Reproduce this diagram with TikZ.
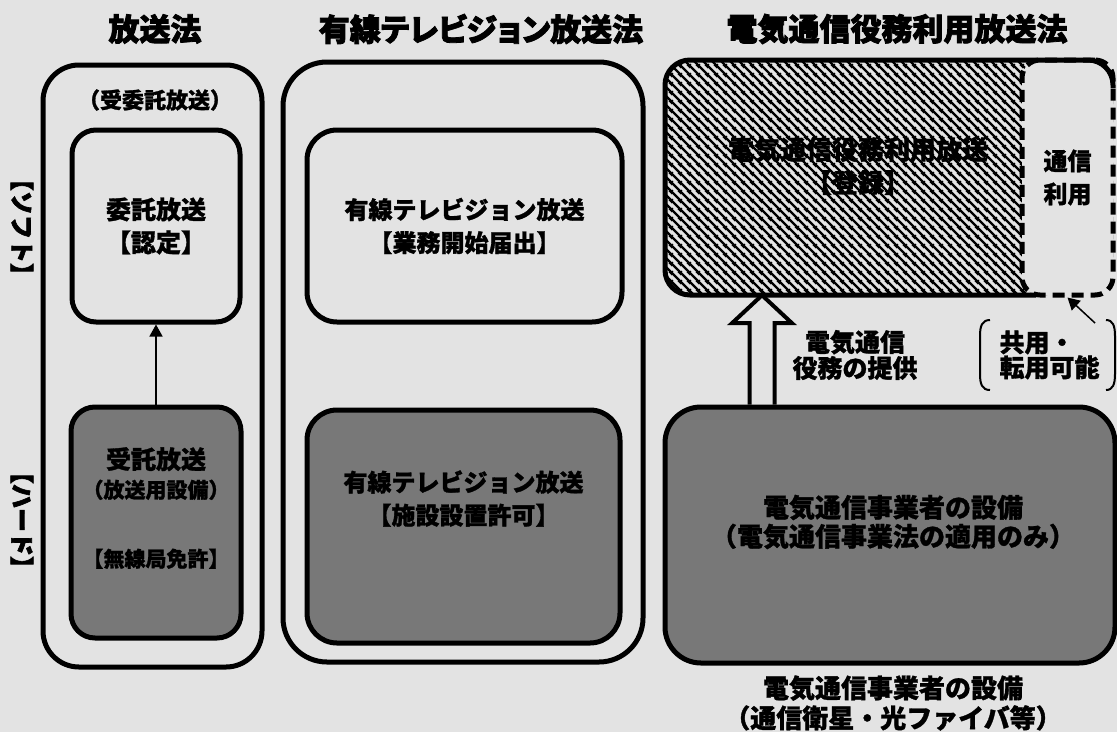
\documentclass[tikz,border=0pt]{standalone}
\usepackage{fontspec}
\setmainfont{Noto Sans CJK JP}[BoldFeatures={FakeBold=1.2}]
\newfontfamily\heavy{Noto Sans CJK JP}[BoldFeatures={FakeBold=2.5}]
\usetikzlibrary{arrows.meta,patterns,calc}
\definecolor{paper}{gray}{0.89}
\definecolor{hardgray}{gray}{0.47}
\newcommand{\fs}[2]{\fontsize{#1}{#2}\selectfont\bfseries}
\newcommand{\hs}[2]{\heavy\fontsize{#1}{#2}\selectfont\bfseries}
\pgfdeclarepatternformonly{regstripes}{\pgfqpoint{0pt}{0pt}}{\pgfqpoint{8.5pt}{8.5pt}}{\pgfqpoint{8.5pt}{8.5pt}}{%
  \pgfsetlinewidth{2.4pt}
  \pgfpathmoveto{\pgfqpoint{-1pt}{9.5pt}}\pgfpathlineto{\pgfqpoint{9.5pt}{-1pt}}
  \pgfpathmoveto{\pgfqpoint{-2pt}{2pt}}\pgfpathlineto{\pgfqpoint{2pt}{-2pt}}
  \pgfpathmoveto{\pgfqpoint{6.5pt}{10.5pt}}\pgfpathlineto{\pgfqpoint{10.5pt}{6.5pt}}
  \pgfusepath{stroke}}

\begin{document}
\begin{tikzpicture}[x=1pt,y=-1pt,
    lawbox/.style={draw,line width=5pt,rounded corners=#1,inner sep=0pt,align=center},
    lawbox/.default=28pt,
    hardbox/.style={lawbox=#1,fill=hardgray},
    hardbox/.default=28pt,
    lawtitle/.style={font=\hs{31}{36}},
    txt/.style={font=\fs{24}{33},align=center},
    hollow/.style={draw,line width=4pt,fill=paper,line join=miter},
    ptr/.style={line width=1.5pt,-{Triangle[length=12pt,width=13pt]}},
    brack/.style={line width=2pt}]
    \fill[paper] (0,0) rectangle (1117,732);
    \useasboundingbox (0,0) rectangle (1117,732);

    % titles
    \node[lawtitle] (hoso) at (155,29) {放送法};
    \node[lawtitle,font={\hs{31}{36}\addfontfeature{RawFeature=+palt}}] (yusen) at (481,29) {有線テレビジョン放送法};
    \node[lawtitle] (denki) at (897,29) {電気通信役務利用放送法};

    \node[font=\hs{24}{24},rotate=-90] (soft) at (22,227) {【ソフト】};
    \node[font=\hs{24}{24},rotate=-90] (hard) at (22,520) {【ハード】};

    % 放送法
    \node[lawbox=36pt,minimum width=219pt,minimum height=602pt] (hosobox) at (152.5,366) {};
    \node[font=\fs{22}{22}] (juitaku) at (155,100) {（受委託放送）};
    \node[lawbox=24pt,txt,font=\fs{25}{33},minimum width=168pt,minimum height=192pt] (itaku) at (156,226) {委託放送\\【認定】};
    \node[hardbox=24pt,minimum width=170pt,minimum height=231pt] (jutaku) at (156,522.5) {};
    \node[txt,font=\fs{21}{29}] (jutakutxt) at (156,508) {{\fontsize{25}{29}\selectfont 受託放送}\\（放送用設備）\\[40pt]【無線局免許】};
    \draw[ptr] (jutaku.north) -- (itaku.south);

    % 有線テレビジョン放送法
    \node[lawbox=44pt,minimum width=360pt,minimum height=600pt] (yusenbox) at (463,362) {};
    \node[lawbox=30pt,txt,minimum width=315pt,minimum height=192pt] (catvsoft) at (464.5,226) {有線テレビジョン放送\\【業務開始届出】};
    \node[hardbox=30pt,minimum width=313pt,minimum height=233pt] (catvhard) at (463.5,526.5) {};
    \node[txt] (catvhardtxt) at (463.5,498.5) {有線テレビジョン放送\\【施設設置許可】};

    % 電気通信役務利用放送法
    \node[minimum width=448pt,minimum height=235pt,inner sep=0pt,rounded corners=25pt,
          pattern=regstripes] (reg) at (889,177.5) {};
    \node[lawbox=18pt,txt,dash pattern=on 12pt off 7pt,fill=paper,minimum width=91pt,minimum height=235pt] (tsushin) at (1067.5,177.5) {通信\\利用};
    \draw[line width=5pt,rounded corners=25pt] (1113,88) -- (1113,60) -- (665,60) -- (665,295) -- (1036,295);
    \node[txt,font=\fs{26}{33}] (regtxt) at (858,166) {電気通信役務利用放送\\【登録】};

    \coordinate (ax) at (762,0);
    \coordinate (afoot) at (ax |- 0,404.5);
    \coordinate (atip) at (ax |- reg.south);
    \draw[hollow] ($(afoot)+(-12.5,0)$) -- ($(atip)+(-12.5,28)$) -- ($(atip)+(-30,28)$) -- (atip)
        -- ($(atip)+(30,28)$) -- ($(atip)+(12.5,28)$) -- ($(afoot)+(12.5,0)$);
    \node[hardbox=36pt,minimum width=450pt,minimum height=256pt] (facil) at (890,535) {};
    \node[txt,font=\fs{26}{29}] (faciltxt) at (893,522) {電気通信事業者の設備\\（電気通信事業法の適用のみ）};
    \node[txt,font=\fs{26}{30}] (facilcap) at (893,703) {電気通信事業者の設備\\（通信衛星・光ファイバ等）};
    \node[txt,font=\fs{25}{26}] (teikyo) at (855,355) {電気通信\\役務の提供};

    % 共用・転用可能
    \node[txt,font=\fs{25}{25},align=left,anchor=west] (share) at (996,355) {共用・\\転用可能};
    \draw[brack] (990,320) .. controls (982,320) and (980,326) .. (980,336) -- (980,374) .. controls (980,384) and (982,390) .. (990,390);
    \draw[brack] (1106,320) .. controls (1113,320) and (1115,326) .. (1115,336) -- (1115,374) .. controls (1115,384) and (1113,390) .. (1106,390);
    \coordinate (sharetip) at (1095,323);
    \draw[ptr] (sharetip) -- (tsushin.south);
\end{tikzpicture}
\end{document}
